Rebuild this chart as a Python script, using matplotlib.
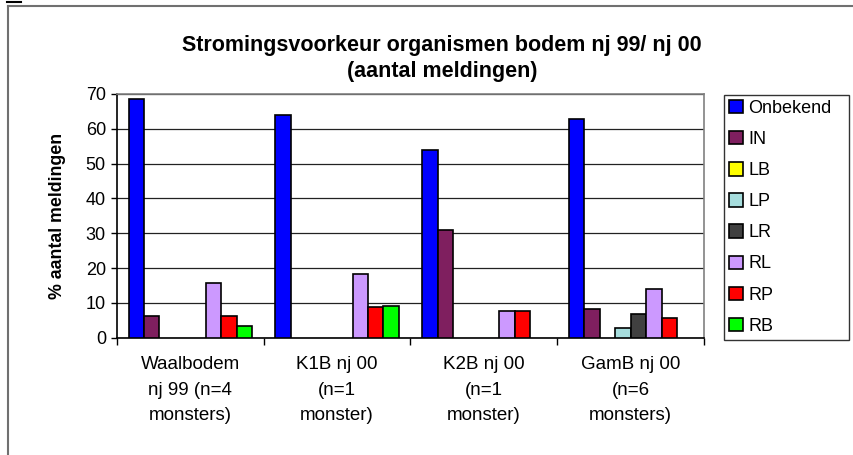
import numpy as np
import matplotlib
matplotlib.use("Agg")
import matplotlib.pyplot as plt
from matplotlib.lines import Line2D
from matplotlib.patches import Patch

plt.rcParams['font.family'] = ['Liberation Sans', 'DejaVu Sans']

categories = ["Waalbodem\nnj 99 (n=4\nmonsters)", "K1B nj 00\n(n=1\nmonster)",
              "K2B nj 00\n(n=1\nmonster)", "GamB nj 00\n(n=6\nmonsters)"]
series_names = ["Onbekend", "IN", "LB", "LP", "LR", "RL", "RP", "RB"]
onbekend = [68.6, 64.0, 53.8, 62.9]
in_vals = [6.2, 0, 30.9, 8.2]
lb = [0, 0, 0, 0]
lp = [0, 0, 0, 2.9]
lr = [0, 0, 0, 6.7]
rl = [15.8, 18.2, 7.7, 13.9]
rp = [6.2, 8.9, 7.7, 5.7]
rb = [3.4, 9.0, 0, 0]
series_values = [onbekend, in_vals, lb, lp, lr, rl, rp, rb]
colors = ["#0000FF", "#7F1F5F", "#FFFF00", "#A6DDDD", "#404040", "#CC99FF", "#FF0000", "#00FF00"]
yticks = [0, 10, 20, 30, 40, 50, 60, 70]

fig = plt.figure(figsize=(8.54, 4.55), dpi=100)
W, H = 854, 455
ax = fig.add_axes([117 / W, 1 - 337.7 / H, (704 - 117) / W, (337.7 - 94) / H])

n = len(series_names)
w = 1 / (n + 1.5)
x = np.arange(len(categories))
for i, (name, vals, c) in enumerate(zip(series_names, series_values, colors)):
    xs = [xi + (i - (n - 1) / 2) * w for xi, v in zip(x, vals) if v > 0]
    vs = [v for v in vals if v > 0]
    ax.bar(xs, vs, width=w, color=c, edgecolor="black", linewidth=1.2, zorder=3)

ax.set_xlim(-0.5, len(categories) - 0.5)
ax.set_ylim(0, 70)
ax.set_yticks(yticks)
ax.yaxis.grid(True, color="#222222", linewidth=0.9, zorder=0)
ax.set_axisbelow(True)

ax.set_xticks(x)
ax.set_xticklabels(categories, fontsize=13.5, linespacing=1.68)
ax.set_xticks(np.arange(len(categories) + 1) - 0.5, minor=True)
ax.tick_params(axis="x", which="major", length=0, pad=13)
ax.tick_params(axis="x", which="minor", length=5, direction="out", width=1, color="black")
ax.tick_params(axis="y", length=4, direction="out", width=1, labelsize=13, pad=4)

for s in ["left", "bottom"]:
    ax.spines[s].set_color("black")
    ax.spines[s].set_linewidth(1.2)
for s in ["top", "right"]:
    ax.spines[s].set_color("#808080")
    ax.spines[s].set_linewidth(1.2)

ax.set_ylabel("% aantal meldingen", fontsize=12.8, fontweight="bold", labelpad=14)

fig.text(442 / W, 1 - 45 / H, "Stromingsvoorkeur organismen bodem nj 99/ nj 00",
         ha="center", va="center", fontsize=15.5, fontweight="bold")
fig.text(442 / W, 1 - 72 / H, "(aantal meldingen)",
         ha="center", va="center", fontsize=15.5, fontweight="bold")

handles = [Patch(facecolor=c, edgecolor="black", linewidth=1.2) for c in colors]
leg = fig.legend(handles, series_names, loc="upper left", mode="expand",
                 bbox_to_anchor=(724 / W, 1 - 338 / H, 125 / W, 243 / H), fontsize=13,
                 handlelength=0.75, handleheight=0.75, handletextpad=0.3,
                 labelspacing=0.78, borderpad=0.28, borderaxespad=0,
                 fancybox=False, shadow=False, frameon=True)
leg.get_frame().set_edgecolor("black")
leg.get_frame().set_linewidth(1.0)

# outer frame
fig.add_artist(Line2D([8 / W, 1], [1 - 5.5 / H, 1 - 5.5 / H], color="#707070", linewidth=1.5))
fig.add_artist(Line2D([8 / W, 8 / W], [1 - 5.5 / H, 0], color="#707070", linewidth=1.5))
fig.add_artist(Line2D([7 / W, 21 / W], [1 - 1.5 / H, 1 - 1.5 / H], color="black", linewidth=1.5))

fig.savefig("out.png", dpi=100)
